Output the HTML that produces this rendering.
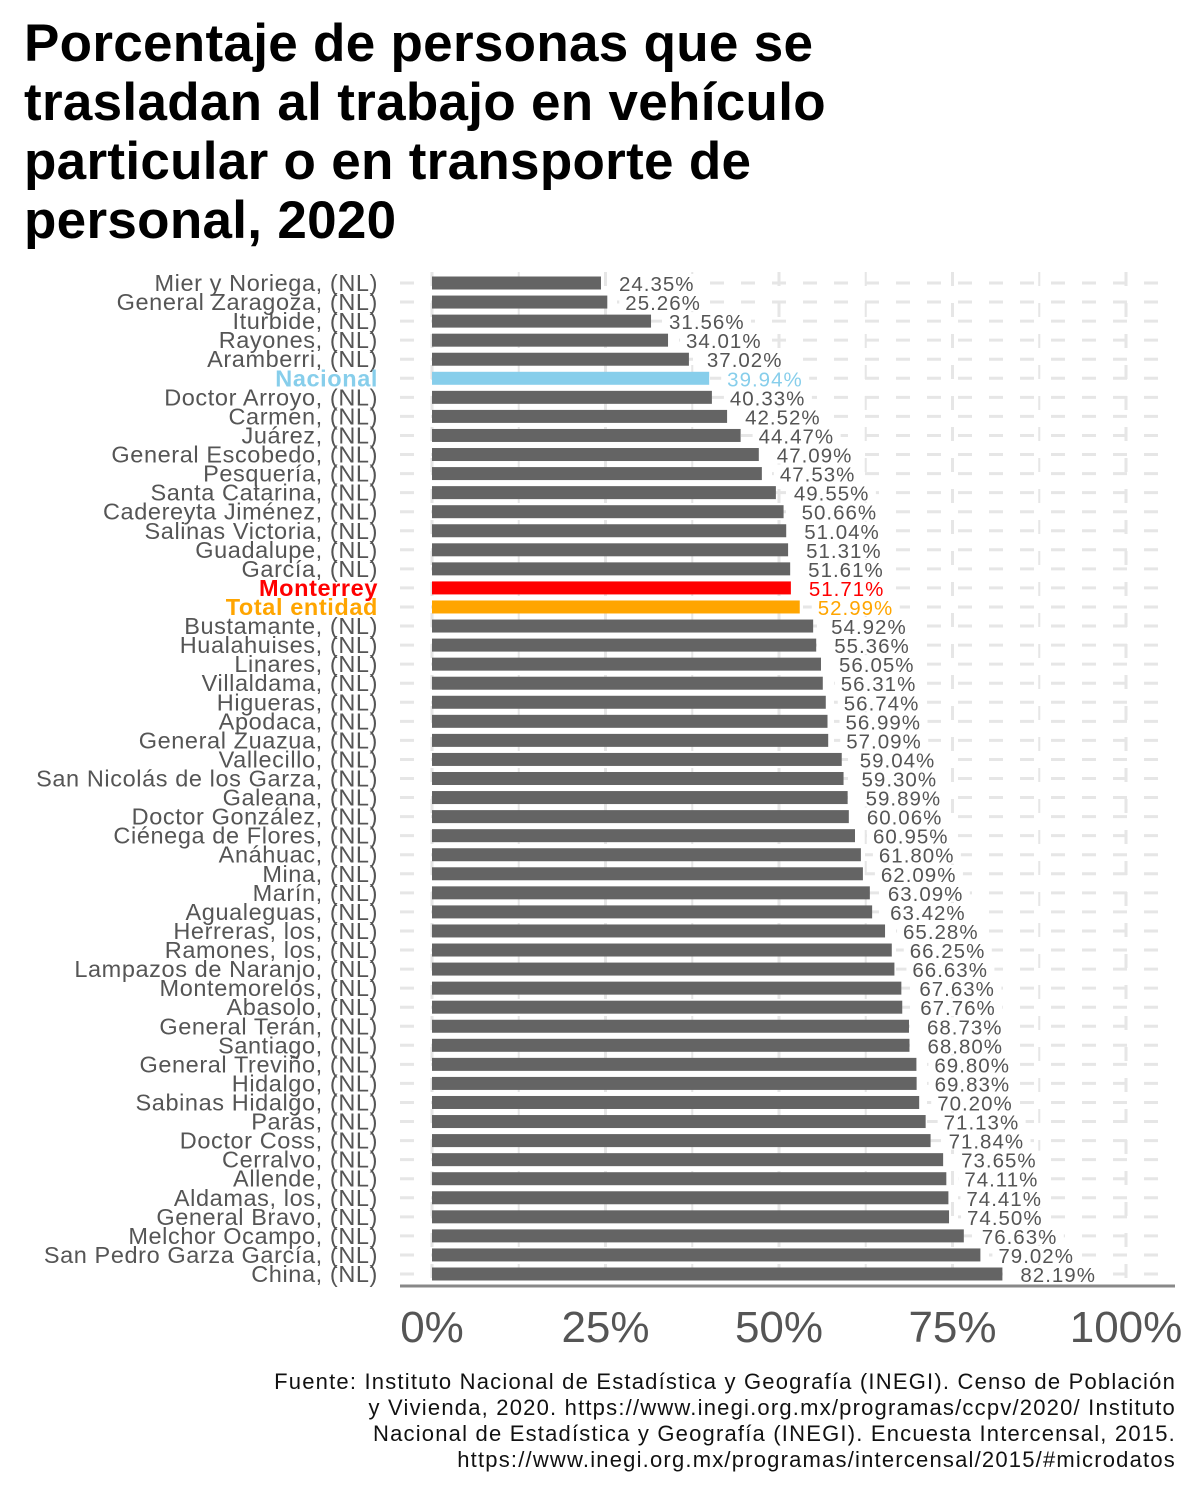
<!DOCTYPE html>
<html><head><meta charset="utf-8">
<style>
body{margin:0;background:#fff;width:1200px;height:1500px;overflow:hidden;font-family:"Liberation Sans","DejaVu Sans",sans-serif}
#title{position:absolute;left:24px;top:14px;font-weight:bold;font-size:53px;line-height:59px;color:#000;margin:0;letter-spacing:0.3px}
#src{position:absolute;right:24px;top:1369px;text-align:right;font-size:22px;line-height:26px;color:#111;letter-spacing:1.2px;white-space:nowrap}
svg{position:absolute;left:0;top:0}
</style></head><body>
<h1 id="title">Porcentaje de personas que se<br>trasladan al trabajo en vehículo<br>particular o en transporte de<br>personal, 2020</h1>
<svg id="chart" width="1200" height="1500"></svg>
<div id="src">Fuente: Instituto Nacional de Estadística y Geografía (INEGI). Censo de Población<br>y Vivienda, 2020. https://www.inegi.org.mx/programas/ccpv/2020/ Instituto<br>Nacional de Estadística y Geografía (INEGI). Encuesta Intercensal, 2015.<br>https://www.inegi.org.mx/programas/intercensal/2015/#microdatos</div>
<script>
const categories=["Mier y Noriega, (NL)","General Zaragoza, (NL)","Iturbide, (NL)","Rayones, (NL)","Aramberri, (NL)","Nacional","Doctor Arroyo, (NL)","Carmen, (NL)","Juárez, (NL)","General Escobedo, (NL)","Pesquería, (NL)","Santa Catarina, (NL)","Cadereyta Jiménez, (NL)","Salinas Victoria, (NL)","Guadalupe, (NL)","García, (NL)","Monterrey","Total entidad","Bustamante, (NL)","Hualahuises, (NL)","Linares, (NL)","Villaldama, (NL)","Higueras, (NL)","Apodaca, (NL)","General Zuazua, (NL)","Vallecillo, (NL)","San Nicolás de los Garza, (NL)","Galeana, (NL)","Doctor González, (NL)","Ciénega de Flores, (NL)","Anáhuac, (NL)","Mina, (NL)","Marín, (NL)","Agualeguas, (NL)","Herreras, los, (NL)","Ramones, los, (NL)","Lampazos de Naranjo, (NL)","Montemorelos, (NL)","Abasolo, (NL)","General Terán, (NL)","Santiago, (NL)","General Treviño, (NL)","Hidalgo, (NL)","Sabinas Hidalgo, (NL)","Parás, (NL)","Doctor Coss, (NL)","Cerralvo, (NL)","Allende, (NL)","Aldamas, los, (NL)","General Bravo, (NL)","Melchor Ocampo, (NL)","San Pedro Garza García, (NL)","China, (NL)"];
const values=[24.35,25.26,31.56,34.01,37.02,39.94,40.33,42.52,44.47,47.09,47.53,49.55,50.66,51.04,51.31,51.61,51.71,52.99,54.92,55.36,56.05,56.31,56.74,56.99,57.09,59.04,59.30,59.89,60.06,60.95,61.80,62.09,63.09,63.42,65.28,66.25,66.63,67.63,67.76,68.73,68.80,69.80,69.83,70.20,71.13,71.84,73.65,74.11,74.41,74.50,76.63,79.02,82.19];
const ticks=[0,25,50,75,100];
const highlight={"Nacional":"#87CEEB","Monterrey":"#FF0000","Total entidad":"#FFA500"};
const svg=document.getElementById('chart');
const NS='http://www.w3.org/2000/svg';
const x0=432,pxPer=6.94,y0=283,step=(1274-283)/52,bh=13;
const x=v=>x0+v*pxPer;
const y=i=>y0+i*step;
function mk(t,a){const e=document.createElementNS(NS,t);for(const k in a)e.setAttribute(k,a[k]);svg.appendChild(e);return e;}
for(let k=0;k<=8;k++){const g=mk('line',{x1:x(k*12.5),x2:x(k*12.5),y1:272,y2:1284,stroke:'#e6e6e6','stroke-width':k%2?2:3,'stroke-dasharray':'14 17'});

}
categories.forEach((c,i)=>{const g=mk('line',{x1:400,x2:1168,y1:y(i),y2:y(i),stroke:'#e6e6e6','stroke-width':3,'stroke-dasharray':'14 17'});

});
categories.forEach((c,i)=>{
 const col=highlight[c]||'#646464';
 const b=mk('rect',{x:x0,y:y(i)-bh/2,width:x(values[i])-x0,height:bh,fill:col});
 
 
 const txt=values[i].toFixed(2)+'%';
 const bx=x(values[i])+12;
 const bg=mk('rect',{x:bx,y:y(i)-9,width:txt.length*13+10,height:18,fill:'#fff'});
 
 
 const vt=mk('text',{x:bx+6,y:y(i)+8,'font-size':20.5,'letter-spacing':1,fill:highlight[c]||'#555','font-family':'Liberation Sans, DejaVu Sans, sans-serif'});
 vt.textContent=txt;
 
 
 const lt=mk('text',{x:378,y:y(i)+8,'text-anchor':'end','font-size':23.5,'letter-spacing':0.6,fill:highlight[c]||'#555','font-weight':highlight[c]?'bold':'normal','font-family':'Liberation Sans, DejaVu Sans, sans-serif'});
 lt.textContent=c;
 
 
});
const ax=mk('line',{x1:400,x2:1175,y1:1286,y2:1286,stroke:'#888','stroke-width':3});


ticks.forEach(t=>{const e=mk('text',{x:x(t),y:1342,'text-anchor':'middle','font-size':44,fill:'#555','font-family':'Liberation Sans, DejaVu Sans, sans-serif'});
e.textContent=t+'%';

});
</script>
</body></html>
